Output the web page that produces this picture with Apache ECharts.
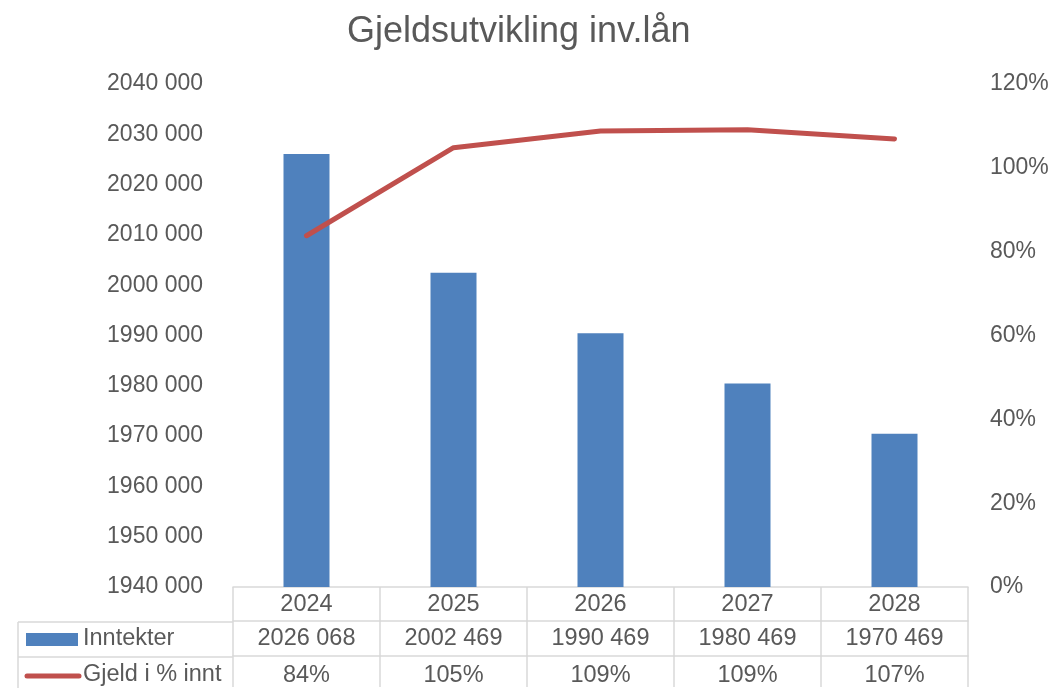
<!DOCTYPE html>
<html>
<head>
<meta charset="utf-8">
<script src="https://cdn.jsdelivr.net/npm/echarts@6/dist/echarts.min.js"></script>
<style>html,body{margin:0;padding:0;background:#fff}#c{width:1056px;height:688px}</style>
</head>
<body>
<div id="c"></div>
<script>
const categories = ['2024', '2025', '2026', '2027', '2028'];
const inntekter = [2026068, 2002469, 1990469, 1980469, 1970469];
const gjeldPct = [0.838, 1.048, 1.088, 1.091, 1.069];
const seriesNames = ['Inntekter', 'Gjeld i % innt'];
const titleText = 'Gjeldsutvikling inv.lån';

const FONT = '"Liberation Sans", Arial, sans-serif';
const TXT = '#595959';
const GRIDC = '#d9d9d9';
const BLUE = '#4f81bd';
const RED = '#c0504d';

function fmtNum(v) {
  const th = Math.floor(v / 1000);
  const rest = String(Math.round(v % 1000)).padStart(3, '0');
  return th + ' ' + rest;
}
function fmtPct(v) { return Math.round(v * 100) + '%'; }

const chart = echarts.init(document.getElementById('c'));
const gridLeft = 233, gridRight = 88, gridTop = 84, gridBottom = 100;
const rowY1 = 622, rowY2 = 657, tableLeft = 18;

chart.setOption({
  animation: false,
  textStyle: { fontFamily: FONT },
  title: {
    text: titleText, left: 342, top: 9,
    textStyle: { fontFamily: FONT, fontSize: 36, fontWeight: 'normal', color: TXT }
  },
  grid: { left: gridLeft, right: gridRight, top: gridTop, bottom: gridBottom, containLabel: false },
  xAxis: [
    {
      type: 'category', data: categories, position: 'bottom',
      axisLine: { show: true, lineStyle: { color: GRIDC, width: 1.5 } },
      axisTick: { show: true, length: 100, lineStyle: { color: GRIDC, width: 1.5 } },
      axisLabel: { color: TXT, fontSize: 23.5, fontFamily: FONT, margin: 6 }
    },
    {
      type: 'category', data: inntekter.map(fmtNum), position: 'bottom', offset: rowY1 - 588,
      axisLine: { show: true, lineStyle: { color: GRIDC, width: 1.5 } },
      axisTick: { show: false },
      axisLabel: { color: TXT, fontSize: 23.5, fontFamily: FONT, margin: 6 }
    },
    {
      type: 'category', data: gjeldPct.map(fmtPct), position: 'bottom', offset: rowY2 - 588,
      axisLine: { show: true, lineStyle: { color: GRIDC, width: 1.5 } },
      axisTick: { show: false },
      axisLabel: { color: TXT, fontSize: 23.5, fontFamily: FONT, margin: 8 }
    }
  ],
  yAxis: [
    {
      type: 'value', min: 1940000, max: 2040000, interval: 10000,
      axisLine: { show: false }, axisTick: { show: false }, splitLine: { show: false },
      axisLabel: { color: TXT, fontSize: 23, fontFamily: FONT, margin: 30, formatter: fmtNum }
    },
    {
      type: 'value', min: 0, max: 1.2, interval: 0.2, position: 'right',
      axisLine: { show: false }, axisTick: { show: false }, splitLine: { show: false },
      axisLabel: { color: TXT, fontSize: 23, fontFamily: FONT, margin: 22, formatter: fmtPct }
    }
  ],
  series: [
    {
      name: seriesNames[0], type: 'bar', data: inntekter, barWidth: 46,
      itemStyle: { color: BLUE }
    },
    {
      name: seriesNames[1], type: 'line', yAxisIndex: 1, data: gjeldPct,
      showSymbol: false, symbol: 'none',
      lineStyle: { color: RED, width: 5, cap: 'round', join: 'round' },
      itemStyle: { color: RED }
    }
  ],
  graphic: [
    { type: 'line', shape: { x1: tableLeft, y1: rowY1, x2: gridLeft, y2: rowY1 }, style: { stroke: GRIDC, lineWidth: 1.5 } },
    { type: 'line', shape: { x1: tableLeft, y1: rowY2, x2: gridLeft, y2: rowY2 }, style: { stroke: GRIDC, lineWidth: 1.5 } },
    { type: 'line', shape: { x1: tableLeft, y1: rowY1, x2: tableLeft, y2: 688 }, style: { stroke: GRIDC, lineWidth: 1.5 } },
    { type: 'rect', shape: { x: 26, y: 633, width: 52, height: 13 }, style: { fill: BLUE } },
    { type: 'text', left: 83, top: 627, style: { text: seriesNames[0], fill: TXT, font: '23.5px ' + FONT } },
    { type: 'line', shape: { x1: 27, y1: 676, x2: 79, y2: 676 }, style: { stroke: RED, lineWidth: 5, lineCap: 'round' } },
    { type: 'text', left: 83, top: 663, style: { text: seriesNames[1], fill: TXT, font: '23.5px ' + FONT } }
  ]
});
</script>
</body>
</html>
